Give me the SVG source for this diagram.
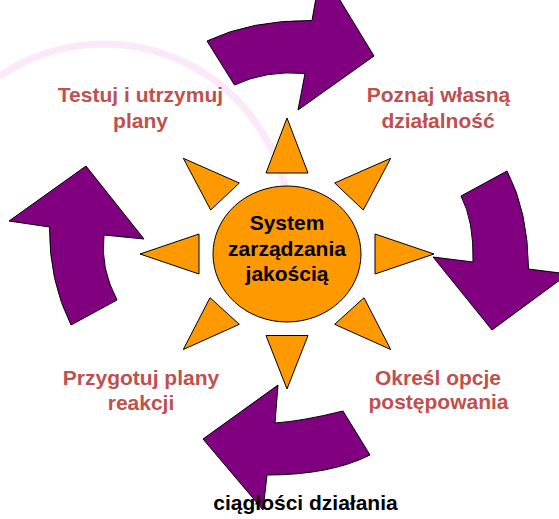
<svg xmlns="http://www.w3.org/2000/svg" width="559" height="519" viewBox="0 0 559 519">
  <style>
    .arrow { fill: #800080; stroke: #000; stroke-width: 1; stroke-linejoin: miter; }
    .ray { fill: #ff9900; stroke: #000; stroke-width: 1; stroke-linejoin: miter; }
    .hub { fill: #ff9900; stroke: #000; stroke-width: 1; }
    .lbl { font-family: "Liberation Sans", Arial, sans-serif; font-weight: bold; font-size: 21px; text-anchor: middle; fill: #c0504d; }
    .ctr { font-family: "Liberation Sans", Arial, sans-serif; font-weight: bold; font-size: 21px; text-anchor: middle; fill: #000; }
    .wm { fill: none; stroke: #fbe9f9; stroke-width: 7; stroke-linecap: round; }
  </style>
  <rect width="559" height="519" fill="#fff"/>
  <g id="watermark">
    <path class="wm" d="M 0,75.8 A 186 186 0 0 1 287.7,200.9"/>
  </g>
  <g id="connectors">
    <path id="arrow-top" class="arrow" d="M 207,41 Q 251,20 312,20.5 L 321,-31 L 374,56 L 298,110 L 305,73.5 Q 266,70 234.5,85 Z"/>
    <path id="arrow-right" class="arrow" d="M 507,171 Q 528,211 528.5,269 L 568,274 L 492,330 L 433,257 L 473,262 Q 474,221 461,196 Z"/>
    <path id="arrow-bottom" class="arrow" d="M 370,455 Q 330,475 267,475 L 263,510 L 203,439 L 278,385 L 275,423 Q 303,421 343,411 Z"/>
    <path id="arrow-left" class="arrow" d="M 71,325 Q 49,281 49.5,227 L 9,221 L 86,166 L 144,239 L 104,235 Q 100,268 117,300 Z"/>
  </g>
  <g id="sun">
    <polygon class="ray" points="287,118 266,173 308,173"/>
    <polygon class="ray" points="287,389 266,335.5 308,335.5"/>
    <polygon class="ray" points="140,254 199,234 199,274"/>
    <polygon class="ray" points="434,254 375,234 375,274"/>
    <polygon class="ray" points="183.3,158.3 239.3,183 210.7,210"/>
    <polygon class="ray" points="390.7,158.3 334.7,183 363.3,210"/>
    <polygon class="ray" points="183.3,349.5 239.3,324.3 210,297.7"/>
    <polygon class="ray" points="390.7,349.5 334.7,324.3 364,297.7"/>
  </g>
  <g id="node-center">
    <ellipse class="hub" cx="287" cy="254" rx="74" ry="68"/>
    <text class="ctr" x="287" y="230">System</text>
    <text class="ctr" x="287" y="255.5">zarządzania</text>
    <text class="ctr" x="287" y="280.5">jakością</text>
  </g>
  <g id="node-testuj">
    <text class="lbl" x="140.5" y="101.5">Testuj i utrzymuj</text>
    <text class="lbl" x="140.5" y="128">plany</text>
  </g>
  <g id="node-poznaj">
    <text class="lbl" x="438.5" y="101.5">Poznaj własną</text>
    <text class="lbl" x="438" y="128">działalność</text>
  </g>
  <g id="node-okresl">
    <text class="lbl" x="438" y="385">Określ opcje</text>
    <text class="lbl" x="438.5" y="408.5">postępowania</text>
  </g>
  <g id="node-przygotuj">
    <text class="lbl" x="141" y="385">Przygotuj plany</text>
    <text class="lbl" x="141" y="409.5">reakcji</text>
  </g>
  <g id="node-ciaglosc">
    <text class="ctr" x="305.5" y="510">ciągłości działania</text>
  </g>
</svg>
